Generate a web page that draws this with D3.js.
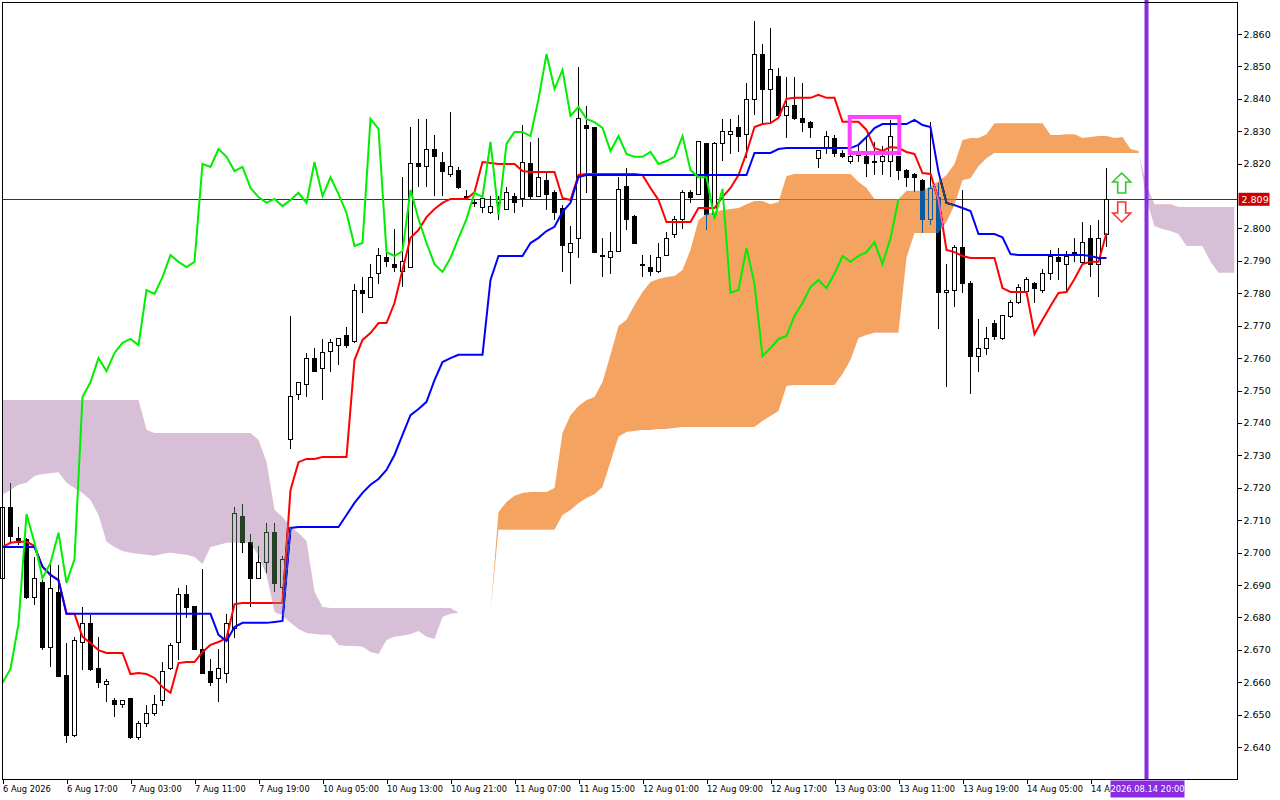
<!DOCTYPE html>
<html>
<head>
<meta charset="utf-8">
<script src="https://cdn.jsdelivr.net/npm/d3@7"></script>
<style>
  html, body { margin:0; padding:0; background:#fff; }
  svg { display:block; font-family:"DejaVu Sans", sans-serif; }
</style>
</head>
<body>
<svg id="chart" width="1280" height="800"></svg>
<script>
// ====== data (H1 bars)
const opens = [
  2.6921,2.7140,2.7042,2.7039,2.6860,2.6909,2.6708,2.6878,2.6622,2.6437,
  2.6721,2.6780,2.6641,2.6592,2.6542,2.6530,2.6551,2.6428,2.6471,2.6502,
  2.6542,2.6641,2.6721,2.6872,2.6832,2.6702,2.6632,2.6610,2.6628,2.6767,
  2.7110,2.7030,2.6921,2.6968,2.7061,2.6893,2.7350,2.7489,2.7520,2.7600,
  2.7569,2.7619,2.7640,2.7671,2.7650,2.7810,2.7788,2.7860,2.7909,2.7890,
  2.7866,2.7881,2.8199,2.8190,2.8245,2.8205,2.8168,2.8180,2.8100,2.8079,
  2.8066,2.8048,2.8079,2.8060,2.8100,2.8091,2.8199,2.8100,2.8149,2.8110,
  2.8063,2.7927,2.7970,2.8319,2.8310,2.7918,2.7909,2.7930,2.8128,2.8038,
  2.7890,2.7881,2.7866,2.7918,2.7980,2.8029,2.8110,2.8106,2.8261,2.8042,
  2.8261,2.8289,2.8310,2.8289,2.8399,2.8538,2.8430,2.8470,2.8350,2.8378,
  2.8338,2.8328,2.8217,2.8248,2.8279,2.8230,2.8208,2.8224,2.8221,2.8208,
  2.8208,2.8208,2.8221,2.8180,2.8168,2.8149,2.8029,2.8097,2.7801,2.7810,
  2.7940,2.7829,2.7606,2.7631,2.7708,2.7659,2.7727,2.7770,2.7807,2.7829,
  2.7810,2.7860,2.7909,2.7890,2.7927,2.7894,2.7970,2.7890,2.7980
];
const highs = [
  2.7162,2.7215,2.7079,2.7045,2.6986,2.6924,2.6962,2.6962,2.6721,2.6740,
  2.6832,2.6808,2.6739,2.6610,2.6551,2.6545,2.6551,2.6480,2.6530,2.6560,
  2.6662,2.6721,2.6890,2.6900,2.6835,2.6949,2.6671,2.6702,2.6811,2.7140,
  2.7150,2.7057,2.7020,2.7091,2.7091,2.6989,2.7730,2.7526,2.7616,2.7631,
  2.7659,2.7659,2.7659,2.7696,2.7829,2.7850,2.7890,2.7940,2.7940,2.7998,
  2.8158,2.8313,2.8338,2.8338,2.8288,2.8236,2.8359,2.8190,2.8119,2.8088,
  2.8091,2.8100,2.8100,2.8128,2.8110,2.8319,2.8267,2.8279,2.8177,2.8119,
  2.8072,2.8008,2.8498,2.8378,2.8313,2.7970,2.7989,2.8158,2.8187,2.8041,
  2.7918,2.7918,2.7955,2.7989,2.8038,2.8119,2.8119,2.8270,2.8264,2.8267,
  2.8338,2.8338,2.8350,2.8449,2.8640,2.8569,2.8619,2.8495,2.8467,2.8467,
  2.8449,2.8331,2.8242,2.8301,2.8288,2.8242,2.8248,2.8258,2.8279,2.8267,
  2.8255,2.8335,2.8224,2.8183,2.8171,2.8152,2.8328,2.8140,2.7890,2.7949,
  2.8119,2.7838,2.7720,2.7696,2.7718,2.7733,2.7779,2.7829,2.7850,2.7835,
  2.7875,2.7934,2.7940,2.7930,2.7970,2.8020,2.8011,2.8026,2.8187
];
const lows = [
  2.6915,2.7033,2.7024,2.6857,2.6839,2.6699,2.6646,2.6616,2.6413,2.6431,
  2.6638,2.6635,2.6582,2.6539,2.6493,2.6520,2.6425,2.6422,2.6462,2.6496,
  2.6527,2.6638,2.6668,2.6798,2.6699,2.6625,2.6588,2.6539,2.6598,2.6736,
  2.6999,2.6832,2.6918,2.6937,2.6878,2.6884,2.7320,2.7471,2.7480,2.7557,
  2.7471,2.7557,2.7578,2.7631,2.7647,2.7739,2.7785,2.7829,2.7881,2.7866,
  2.7819,2.7878,2.8128,2.8128,2.8100,2.8100,2.8158,2.8122,2.8088,2.8066,
  2.8048,2.8045,2.8026,2.8057,2.8048,2.8066,2.8091,2.8097,2.8057,2.8026,
  2.7866,2.7829,2.7909,2.8110,2.7924,2.7850,2.7860,2.7927,2.7995,2.7952,
  2.7850,2.7853,2.7863,2.7915,2.7970,2.7998,2.8079,2.8103,2.7995,2.8039,
  2.8208,2.8230,2.8236,2.8217,2.8350,2.8325,2.8325,2.8341,2.8279,2.8335,
  2.8298,2.8279,2.8187,2.8230,2.8221,2.8217,2.8199,2.8205,2.8158,2.8165,
  2.8165,2.8158,2.8149,2.8128,2.8112,2.7986,2.8011,2.7690,2.7511,2.7758,
  2.7801,2.7489,2.7557,2.7609,2.7656,2.7656,2.7724,2.7767,2.7804,2.7770,
  2.7801,2.7841,2.7841,2.7807,2.7897,2.7887,2.7850,2.7788,2.7943
];
const closes = [
  2.7140,2.7048,2.7030,2.6860,2.6921,2.6708,2.6890,2.6619,2.6437,2.6730,
  2.6780,2.6638,2.6598,2.6601,2.6530,2.6542,2.6428,2.6471,2.6502,2.6530,
  2.6632,2.6712,2.6872,2.6829,2.6702,2.6628,2.6598,2.6641,2.6780,2.7119,
  2.7030,2.6921,2.6968,2.7061,2.6906,2.6980,2.7480,2.7526,2.7600,2.7560,
  2.7616,2.7647,2.7659,2.7640,2.7810,2.7798,2.7850,2.7918,2.7897,2.7881,
  2.7897,2.8199,2.8190,2.8245,2.8221,2.8177,2.8190,2.8125,2.8097,2.8079,
  2.8091,2.8069,2.8088,2.8110,2.8079,2.8205,2.8100,2.8158,2.8106,2.8048,
  2.7946,2.7955,2.8338,2.8307,2.7927,2.7915,2.7930,2.8119,2.8029,2.7955,
  2.7890,2.7866,2.7909,2.7970,2.8029,2.8110,2.8097,2.8267,2.8042,2.8261,
  2.8298,2.8298,2.8285,2.8399,2.8538,2.8430,2.8489,2.8347,2.8375,2.8338,
  2.8328,2.8310,2.8239,2.8285,2.8230,2.8221,2.8221,2.8236,2.8199,2.8208,
  2.8221,2.8285,2.8180,2.8158,2.8158,2.8029,2.8122,2.7801,2.7810,2.7940,
  2.7829,2.7606,2.7631,2.7659,2.7668,2.7730,2.7770,2.7819,2.7841,2.7816,
  2.7860,2.7915,2.7897,2.7915,2.7927,2.7958,2.7890,2.7970,2.8090
];

// Tenkan-sen (red) / Kijun-sen (blue), one value per bar
const tenkan = [
  2.7017,2.7030,2.7033,2.7033,2.7020,2.6956,2.6931,2.6915,2.6811,2.6811,
  2.6740,2.6721,2.6699,2.6690,2.6690,2.6690,2.6625,2.6628,2.6625,2.6613,
  2.6585,2.6567,2.6659,2.6662,2.6662,2.6693,2.6715,2.6724,2.6736,2.6841,
  2.6844,2.6844,2.6844,2.6844,2.6844,2.6844,2.7193,2.7279,2.7289,2.7289,
  2.7295,2.7295,2.7295,2.7295,2.7594,2.7656,2.7677,2.7708,2.7708,2.7770,
  2.7872,2.7971,2.7995,2.8035,2.8060,2.8079,2.8091,2.8091,2.8091,2.8112,
  2.8205,2.8202,2.8199,2.8199,2.8199,2.8177,2.8174,2.8174,2.8174,2.8174,
  2.8094,2.8088,2.8165,2.8168,2.8168,2.8168,2.8168,2.8168,2.8168,2.8168,
  2.8165,2.8125,2.8088,2.8020,2.8020,2.8020,2.8020,2.8063,2.8063,2.8063,
  2.8097,2.8125,2.8165,2.8233,2.8313,2.8322,2.8325,2.8341,2.8400,2.8403,
  2.8403,2.8403,2.8412,2.8403,2.8403,2.8329,2.8329,2.8329,2.8304,2.8248,
  2.8239,2.8251,2.8248,2.8236,2.8230,2.8171,2.8168,2.8088,2.7934,2.7927,
  2.7915,2.7909,2.7909,2.7909,2.7909,2.7816,2.7804,2.7804,2.7804,2.7674,
  2.7718,2.7761,2.7801,2.7804,2.7844,2.7890,2.7897,2.7897,2.7986
];
const kijun = [
  2.7017,2.7017,2.7017,2.7017,2.7017,2.6956,2.6931,2.6915,2.6811,2.6811,
  2.6811,2.6811,2.6811,2.6811,2.6811,2.6811,2.6811,2.6811,2.6811,2.6811,
  2.6811,2.6811,2.6811,2.6811,2.6811,2.6811,2.6811,2.6746,2.6727,2.6770,
  2.6783,2.6783,2.6783,2.6783,2.6786,2.6789,2.7076,2.7079,2.7079,2.7079,
  2.7079,2.7079,2.7079,2.7116,2.7153,2.7184,2.7209,2.7227,2.7255,2.7301,
  2.7363,2.7424,2.7443,2.7465,2.7532,2.7588,2.7600,2.7610,2.7610,2.7610,
  2.7610,2.7841,2.7915,2.7915,2.7915,2.7915,2.7955,2.7971,2.7992,2.8005,
  2.8051,2.8079,2.8159,2.8165,2.8165,2.8165,2.8165,2.8165,2.8165,2.8165,
  2.8165,2.8165,2.8165,2.8165,2.8165,2.8165,2.8165,2.8165,2.8165,2.8165,
  2.8165,2.8165,2.8165,2.8165,2.8233,2.8233,2.8233,2.8245,2.8248,2.8248,
  2.8248,2.8248,2.8248,2.8248,2.8248,2.8248,2.8248,2.8258,2.8282,2.8310,
  2.8322,2.8322,2.8322,2.8322,2.8335,2.8319,2.8313,2.8174,2.8079,2.8072,
  2.8063,2.8054,2.7983,2.7983,2.7983,2.7973,2.7921,2.7918,2.7918,2.7918,
  2.7918,2.7918,2.7918,2.7918,2.7918,2.7918,2.7915,2.7909,2.7909
];

// Senkou Span A / B, as plotted (already shifted), bars 0..154
const spanA = [
  2.7178,2.7193,2.7209,2.7215,2.7236,2.7242,2.7245,2.7248,2.7215,2.7199,
  2.7184,2.7162,2.7116,2.7033,2.7017,2.7005,2.6999,2.6996,2.6993,2.6990,
  2.6996,2.6999,2.6996,2.6993,2.6986,2.6965,2.7017,2.7023,2.7030,2.7030,
  2.7030,2.7030,2.6990,2.6931,2.6817,2.6805,2.6783,2.6764,2.6752,2.6749,
  2.6746,2.6746,2.6715,2.6712,2.6712,2.6709,2.6693,2.6687,2.6730,2.6740,
  2.6743,2.6749,2.6758,2.6740,2.6733,2.6801,2.6811,2.6814,2.6814,2.6814,
  2.6814,2.6814,2.7125,2.7156,2.7175,2.7184,2.7187,2.7187,2.7187,2.7199,
  2.7369,2.7424,2.7452,2.7471,2.7480,2.7526,2.7610,2.7699,2.7718,2.7764,
  2.7804,2.7835,2.7844,2.7850,2.7853,2.7872,2.7934,2.8026,2.8045,2.8051,
  2.8057,2.8060,2.8063,2.8075,2.8085,2.8085,2.8075,2.8082,2.8162,2.8168,
  2.8168,2.8168,2.8168,2.8168,2.8168,2.8168,2.8168,2.8143,2.8125,2.8091,
  2.8091,2.8091,2.8091,2.8116,2.8116,2.8116,2.8131,2.8146,2.8165,2.8199,
  2.8273,2.8279,2.8279,2.8291,2.8325,2.8325,2.8325,2.8325,2.8325,2.8325,
  2.8325,2.8288,2.8288,2.8291,2.8291,2.8279,2.8282,2.8285,2.8285,2.8279,
  2.8282,2.8245,2.8239,2.8088,2.8007,2.7998,2.7992,2.7983,2.7946,2.7946,
  2.7946,2.7897,2.7863,2.7863,2.7863
];
const spanB = [
  2.7471,2.7471,2.7471,2.7471,2.7471,2.7471,2.7471,2.7471,2.7471,2.7471,
  2.7471,2.7471,2.7471,2.7471,2.7471,2.7471,2.7471,2.7471,2.7378,2.7369,
  2.7369,2.7369,2.7369,2.7369,2.7369,2.7369,2.7369,2.7369,2.7369,2.7369,
  2.7369,2.7369,2.7347,2.7279,2.7131,2.7110,2.7079,2.7060,2.7036,2.6878,
  2.6832,2.6829,2.6829,2.6829,2.6829,2.6829,2.6829,2.6829,2.6829,2.6829,
  2.6829,2.6829,2.6829,2.6829,2.6829,2.6829,2.6829,2.6814,2.6814,2.6814,
  2.6814,2.6814,2.7070,2.7070,2.7070,2.7070,2.7070,2.7070,2.7070,2.7070,
  2.7116,2.7131,2.7152,2.7168,2.7180,2.7202,2.7279,2.7357,2.7372,2.7375,
  2.7378,2.7378,2.7381,2.7381,2.7384,2.7387,2.7387,2.7387,2.7387,2.7387,
  2.7387,2.7387,2.7387,2.7387,2.7387,2.7406,2.7421,2.7437,2.7514,2.7517,
  2.7517,2.7517,2.7517,2.7517,2.7517,2.7551,2.7594,2.7662,2.7671,2.7678,
  2.7678,2.7678,2.7678,2.7909,2.7986,2.7986,2.7986,2.7986,2.8020,2.8072,
  2.8149,2.8155,2.8192,2.8217,2.8233,2.8233,2.8233,2.8233,2.8233,2.8233,
  2.8233,2.8233,2.8233,2.8233,2.8233,2.8233,2.8233,2.8233,2.8233,2.8233,
  2.8233,2.8233,2.8233,2.8134,2.8075,2.8075,2.8075,2.8066,2.8066,2.8066,
  2.8066,2.8066,2.8066,2.8066,2.8066
];
const CHIKOU_SHIFT = 26;

// axes (2.810 sits under the price tag, so it is not labelled)
const priceTicks = [
  2.640,2.650,2.660,2.670,2.680,2.690,2.700,2.710,2.720,2.730,2.740,2.750,
  2.760,2.770,2.780,2.790,2.800,2.820,2.830,2.840,2.850,2.860
];
const timeTickBars = [0,8,16,24,32,40,48,56,64,72,80,88,96,104,112,120,128,136];
// last label is cut by the marker's time tag, only "14 A" stays visible
const timeTickLabels = [
  "6 Aug 2026","6 Aug 17:00","7 Aug 03:00","7 Aug 11:00","7 Aug 19:00",
  "10 Aug 05:00","10 Aug 13:00","10 Aug 21:00","11 Aug 07:00","11 Aug 15:00",
  "12 Aug 01:00","12 Aug 09:00","12 Aug 17:00","13 Aug 03:00","13 Aug 11:00",
  "13 Aug 19:00","14 Aug 05:00","14 A"
];
const lastPrice = 2.809;
const markerBar = 143;
const markerLabel = "2026.08.14 20:00";
// annotation objects (bar index / price)
const boxBars = [105.9, 112.1];
const boxPrices = [2.8344, 2.8233];
const arrowBar = 139.9;
const arrowUpTip = 2.8171;
const arrowDownTip = 2.8020;

// ====== layout
const W = 1280, H = 800;
const P = {l:2.5, r:1237.5, t:2.5, b:779.5};
const x = d3.scaleLinear().domain([0, 154]).range([2.5, 2.5 + 8*154]);
const y = d3.scaleLinear().domain([2.640, 2.860]).range([747, 34]);

const svg = d3.select("#chart");
svg.append("rect").attr("width", W).attr("height", H).attr("fill", "#fff");

const defs = svg.append("defs");
defs.append("clipPath").attr("id", "plotClip")
  .append("rect").attr("x", 0).attr("y", 0).attr("width", P.r).attr("height", P.b);

const plot = svg.append("g").attr("clip-path", "url(#plotClip)");
// own white backdrop: the clipped group is isolated, the kumo blends against this
plot.append("rect").attr("x", 0).attr("y", 0).attr("width", W).attr("height", H).attr("fill", "#fff");

// current price line (under the cloud)
plot.append("line")
  .attr("x1", P.l).attr("x2", P.r)
  .attr("y1", Math.round(y(lastPrice)) + 0.5).attr("y2", Math.round(y(lastPrice)) + 0.5)
  .attr("stroke", "#b00000").attr("stroke-width", 1);

// ====== candles
const bars = d3.range(opens.length);
const cx = i => Math.floor(x(i)) + 0.5;
const cg = plot.append("g").attr("shape-rendering", "crispEdges");
cg.selectAll("line.wick").data(bars).join("line")
  .attr("class", "wick")
  .attr("x1", cx).attr("x2", cx)
  .attr("y1", i => y(highs[i])).attr("y2", i => y(lows[i]))
  .attr("stroke", "#000").attr("stroke-width", 1);
cg.selectAll("rect.body").data(bars).join("rect")
  .attr("class", "body")
  .attr("x", i => cx(i) - 2).attr("width", 4)
  .attr("y", i => y(Math.max(opens[i], closes[i])))
  .attr("height", i => Math.max(1, Math.abs(y(opens[i]) - y(closes[i]))))
  .attr("fill", i => closes[i] >= opens[i] ? "#fff" : "#000")
  .attr("stroke", "#000").attr("stroke-width", 1);

// ====== tenkan / kijun
const line = d3.line().x((d, i) => x(i)).y(d => y(d));
plot.append("path").datum(tenkan).attr("d", line)
  .attr("fill", "none").attr("stroke", "#ff0000").attr("stroke-width", 2);
plot.append("path").datum(kijun).attr("d", line)
  .attr("fill", "none").attr("stroke", "#0000ff").attr("stroke-width", 2);

// ====== kumo (drawn with "difference" so it inverts what lies below, like the terminal)
const cloudArea = d3.area().x((d, i) => x(i)).y0((d, i) => y(spanB[i])).y1(d => y(d));
const aboveB = d3.area().x((d, i) => x(i)).y0(d => y(d)).y1(0);
const belowB = d3.area().x((d, i) => x(i)).y0(d => y(d)).y1(H);
defs.append("clipPath").attr("id", "clipAbove").append("path").attr("d", aboveB(spanB));
defs.append("clipPath").attr("id", "clipBelow").append("path").attr("d", belowB(spanB));

plot.append("path").attr("d", cloudArea(spanA))
  .attr("clip-path", "url(#clipAbove)").attr("fill", "#0b5b9f")    // -> sandybrown on white
  .style("mix-blend-mode", "difference");
plot.append("path").attr("d", cloudArea(spanA))
  .attr("clip-path", "url(#clipBelow)").attr("fill", "#274027")    // -> thistle on white
  .style("mix-blend-mode", "difference");

// ====== chikou
const chikou = closes.slice(CHIKOU_SHIFT);
plot.append("path").datum(chikou).attr("d", line)
  .attr("fill", "none").attr("stroke", "#00ee00").attr("stroke-width", 2);

// ====== annotations
plot.append("rect")
  .attr("x", x(boxBars[0])).attr("y", y(boxPrices[0]))
  .attr("width", x(boxBars[1]) - x(boxBars[0]))
  .attr("height", y(boxPrices[1]) - y(boxPrices[0]))
  .attr("fill", "none").attr("stroke", "#ff40ff").attr("stroke-width", 4);

const ax = x(arrowBar);
const upArrow = (tx, ty) => `M${tx},${ty} l9,9 h-5 v11 h-8 v-11 h-5 Z`;
const downArrow = (tx, ty) => `M${tx},${ty} l9,-9 h-5 v-11 h-8 v11 h-5 Z`;
plot.append("path").attr("d", upArrow(ax, y(arrowUpTip)))
  .attr("fill", "#fff").attr("stroke", "#30c830").attr("stroke-width", 1.6);
plot.append("path").attr("d", downArrow(ax, y(arrowDownTip)))
  .attr("fill", "#fff").attr("stroke", "#ff3030").attr("stroke-width", 1.6);

plot.append("line")
  .attr("x1", x(markerBar)).attr("x2", x(markerBar))
  .attr("y1", 0).attr("y2", P.b)
  .attr("stroke", "#8a2be2").attr("stroke-width", 4);

// ====== frame & axes
svg.append("rect")
  .attr("x", P.l).attr("y", P.t).attr("width", P.r - P.l).attr("height", P.b - P.t)
  .attr("fill", "none").attr("stroke", "#000").attr("stroke-width", 1);

const yAxis = svg.append("g")
  .attr("transform", `translate(${P.r},0)`)
  .call(d3.axisRight(y).tickValues(priceTicks).tickFormat(d3.format(".3f"))
    .tickSize(4).tickPadding(2));
yAxis.select(".domain").remove();
yAxis.selectAll("line").attr("stroke", "#000").attr("shape-rendering", "crispEdges");
yAxis.selectAll("text").attr("fill", "#000")
  .style("font-family", "'DejaVu Sans', sans-serif").style("font-size", "9.5px");

const mx = x(markerBar);
const xAxis = svg.append("g")
  .attr("transform", `translate(0,${P.b})`)
  .call(d3.axisBottom(x).tickValues(timeTickBars).tickFormat((d, i) => timeTickLabels[i])
    .tickSize(4));
xAxis.select(".domain").remove();
xAxis.selectAll("line").attr("stroke", "#000").attr("shape-rendering", "crispEdges");
xAxis.selectAll("text").attr("fill", "#000")
  .attr("text-anchor", "start").attr("x", 0).attr("y", 6.5).attr("dy", "0.71em")
  .style("font-family", "'DejaVu Sans', sans-serif").style("font-size", "8.3px");

// price tag
const py = y(lastPrice);
svg.append("rect").attr("x", P.r + 1).attr("y", py - 6.5).attr("width", 31).attr("height", 13)
  .attr("fill", "#cc0000");
svg.append("text").attr("x", P.r + 4).attr("y", py).attr("dy", "0.35em")
  .attr("fill", "#fff").style("font-size", "9.5px").text(d3.format(".3f")(lastPrice));

// time tag of the vertical marker
svg.append("rect").attr("x", mx - 36).attr("y", P.b + 1).attr("width", 74).attr("height", 17)
  .attr("fill", "#8a2be2");
svg.append("text").attr("x", mx + 1).attr("y", P.b + 9.5).attr("dy", "0.35em")
  .attr("text-anchor", "middle").attr("fill", "#fff").style("font-size", "8.3px")
  .text(markerLabel);
</script>
</body>
</html>
